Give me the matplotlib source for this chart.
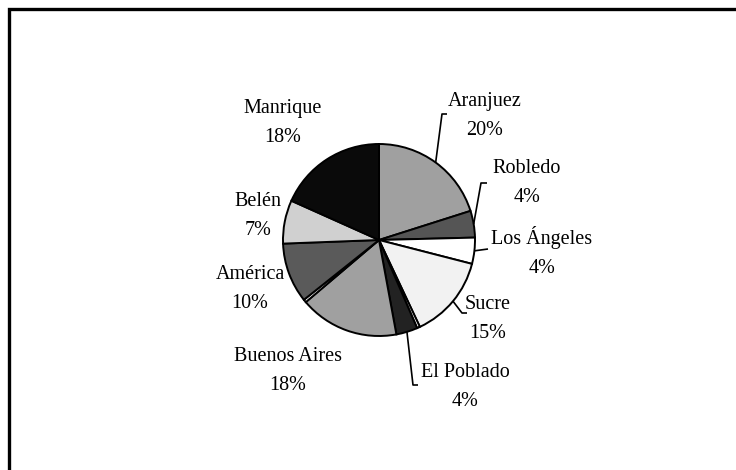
import numpy as np
import matplotlib
matplotlib.use("Agg")
import matplotlib.pyplot as plt

# Data (clockwise from 12 o'clock)
names = ["Aranjuez", "Robledo", "Los Ángeles", "Sucre", "", "El Poblado",
         "Buenos Aires", "", "América", "Belén", "Manrique"]
values = [20.1, 4.5, 4.4, 14.0, 0.5, 3.6, 16.7, 0.5, 10.1, 7.3, 18.3]
pct_labels = ["20%", "4%", "4%", "15%", "", "4%", "18%", "", "10%", "7%", "18%"]
colors = ["#a0a0a0", "#555555", "#ffffff", "#f2f2f2", "#ffffff", "#222222",
          "#a0a0a0", "#ffffff", "#5a5a5a", "#d0d0d0", "#0a0a0a"]

W, H = 736, 470
fig = plt.figure(figsize=(W / 100, H / 100), dpi=100)
ax = fig.add_axes([0, 0, 1, 1])

cx, cy, r = 379, H - 240, 96
wedges, _ = ax.pie(values, colors=colors, startangle=90, counterclock=False,
                   center=(cx, cy), radius=r, frame=True,
                   wedgeprops=dict(edgecolor="black", linewidth=1.4))
ax.set_xlim(0, W)
ax.set_ylim(0, H)
ax.set_aspect("equal")
ax.axis("off")

# label block centres (pixel coords from top) and leader elbow points
label_pos = {
    "Aranjuez": (485, 116), "Robledo": (527, 183), "Los Ángeles": (542, 252),
    "Sucre": (488, 319), "El Poblado": (465, 387), "Buenos Aires": (288, 371),
    "América": (250, 289), "Belén": (258, 216), "Manrique": (283, 123),
}
leaders = {
    "Aranjuez": [(442, 114), (447, 114)],
    "Robledo": [(481, 183), (487, 183)],
    "Los Ángeles": [(488, 249)],
    "Sucre": [(462, 313), (467, 313)],
    "El Poblado": [(413, 385), (418, 385)],
}

font = dict(family=["Liberation Serif", "DejaVu Serif"], size=14.5, color="black")
for w, n, p in zip(wedges, names, pct_labels):
    if not n:
        continue
    x, y = label_pos[n]
    ax.text(x, H - y, f"{n}\n{p}", ha="center", va="center",
            linespacing=1.7, **font)
    if n in leaders:
        ang = np.deg2rad((w.theta1 + w.theta2) / 2)
        sx, sy = cx + r * np.cos(ang), cy + r * np.sin(ang)
        pts = [(sx, sy)] + [(px, H - py) for px, py in leaders[n]]
        xs, ys = zip(*pts)
        ax.plot(xs, ys, color="black", linewidth=1.2, solid_capstyle="butt")

# outer frame (only top and left visible)
ax.plot([9, 9, W + 5], [-5, H - 9, H - 9], color="black", linewidth=2.4,
        solid_joinstyle="miter", clip_on=False)

fig.savefig("out.png", dpi=100, facecolor="white")
